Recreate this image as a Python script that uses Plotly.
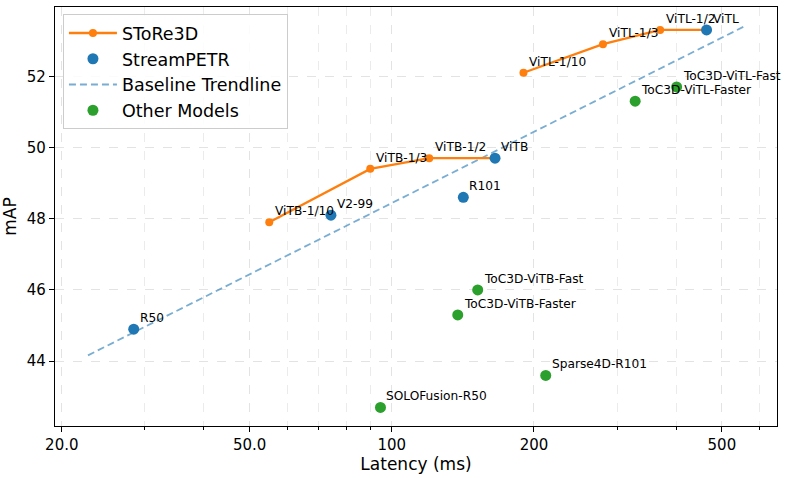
import numpy as np
import plotly.graph_objects as go

# ---------------- data ----------------
store_vitb_lat = [55.0, 90.0, 120.0, 165.4]
store_vitb_map = [47.9, 49.4, 49.7, 49.7]
store_vitb_labels = ["ViTB-1/10", "ViTB-1/3", "ViTB-1/2", None]

store_vitl_lat = [190.0, 280.0, 370.0, 464.0]
store_vitl_map = [52.1, 52.9, 53.3, 53.3]
store_vitl_labels = ["ViTL-1/10", "ViTL-1/3", "ViTL-1/2", None]

stream_labels = ["R50", "V2-99", "R101", "ViTB", "ViTL"]
stream_lat = [28.4, 74.3, 141.7, 165.4, 464.0]
stream_map = [44.9, 48.1, 48.6, 49.7, 53.3]

other_labels = ["ToC3D-ViTB-Fast", "ToC3D-ViTB-Faster", "Sparse4D-R101",
                "SOLOFusion-R50", "ToC3D-ViTL-Fast", "ToC3D-ViTL-Faster"]
other_lat = [152.0, 137.9, 211.8, 94.6, 401.0, 327.6]
other_map = [46.0, 45.3, 43.6, 42.7, 51.7, 51.3]

x_tick_vals = [20, 50, 100, 200, 500]
x_tick_text = ["20.0", "50.0", "100", "200", "500"]
x_minor_vals = [30, 40, 60, 70, 80, 90, 300, 400, 600]
y_tick_vals = [44, 46, 48, 50, 52]

# ---------------- trendline (fit on StreamPETR, log-x) ----------------
coef = np.polyfit(np.log10(stream_lat), stream_map, 1)
trend_x = np.array([0.8 * min(stream_lat), 1.2 * max(stream_lat)])
trend_y = np.polyval(coef, np.log10(trend_x))

ORANGE = "#ff7f0e"
BLUE = "#1f77b4"
GREEN = "#2ca02c"
FONT = "DejaVu Sans"

fig = go.Figure()

fig.add_trace(go.Scatter(
    x=list(trend_x), y=list(trend_y), mode="lines",
    line=dict(color="rgba(31,119,180,0.6)", width=1.8, dash="7px,4px"),
    name="Baseline Trendline", legendrank=3, legendgroup="c"))

fig.add_trace(go.Scatter(
    x=store_vitb_lat + [None] + store_vitl_lat,
    y=store_vitb_map + [None] + store_vitl_map,
    mode="lines+markers",
    line=dict(color=ORANGE, width=2.3),
    marker=dict(color=ORANGE, size=8),
    name="SToRe3D", legendrank=1, connectgaps=False, legendgroup="a"))

fig.add_trace(go.Scatter(
    x=stream_lat, y=stream_map, mode="markers",
    marker=dict(color=BLUE, size=11),
    name="StreamPETR", legendrank=2, legendgroup="b"))

fig.add_trace(go.Scatter(
    x=other_lat, y=other_map, mode="markers",
    marker=dict(color=GREEN, size=11),
    name="Other Models", legendrank=4, legendgroup="d"))

annotations = []
def add_labels(lats, maps, labels):
    for xv, yv, t in zip(lats, maps, labels):
        if t is None:
            continue
        annotations.append(dict(
            x=np.log10(xv), y=yv, xref="x", yref="y", text=t,
            showarrow=False, xanchor="left", yanchor="bottom",
            xshift=4, yshift=2, font=dict(family=FONT, size=12.2, color="black")))

add_labels(store_vitb_lat, store_vitb_map, store_vitb_labels)
add_labels(store_vitl_lat, store_vitl_map, store_vitl_labels)
add_labels(stream_lat, stream_map, stream_labels)
add_labels(other_lat, other_map, other_labels)

grid_col = "rgba(0,0,0,0.11)"

fig.update_layout(
    width=787, height=478,
    margin=dict(l=55, r=10, t=7, b=52),
    paper_bgcolor="white", plot_bgcolor="white",
    font=dict(family=FONT, color="black"),
    annotations=annotations,
    showlegend=True,
    legend=dict(
        x=0.011, y=0.983, xanchor="left", yanchor="top",
        bgcolor="rgba(255,255,255,0.85)", bordercolor="#cccccc", borderwidth=1,
        font=dict(family=FONT, size=17.5), tracegroupgap=0,
        traceorder="grouped", itemwidth=48),
    xaxis=dict(
        type="log", range=[1.2866, 2.8157],
        tickmode="array", tickvals=x_tick_vals, ticktext=x_tick_text,
        ticks="outside", ticklen=5, tickwidth=1, tickcolor="black",
        tickfont=dict(family=FONT, size=15),
        showgrid=True, gridcolor=grid_col, griddash="dash", gridwidth=0.8,
        minor=dict(tickmode="array", tickvals=x_minor_vals, ticks="outside",
                   ticklen=3, tickwidth=0.8, tickcolor="black",
                   showgrid=True, gridcolor="rgba(0,0,0,0.08)", griddash="dash", gridwidth=0.7),
        showline=True, linecolor="black", linewidth=1.2, mirror=True,
        zeroline=False,
        title=dict(text="Latency (ms)", font=dict(family=FONT, size=17), standoff=4),
    ),
    yaxis=dict(
        range=[42.18, 53.945],
        tickmode="array", tickvals=y_tick_vals,
        ticks="outside", ticklen=5, tickwidth=1, tickcolor="black",
        tickfont=dict(family=FONT, size=15),
        showgrid=True, gridcolor=grid_col, griddash="dash", gridwidth=0.8,
        showline=True, linecolor="black", linewidth=1.2, mirror=True,
        zeroline=False,
        title=dict(text="mAP", font=dict(family=FONT, size=17), standoff=6),
    ),
)

fig.write_html("out.html")
